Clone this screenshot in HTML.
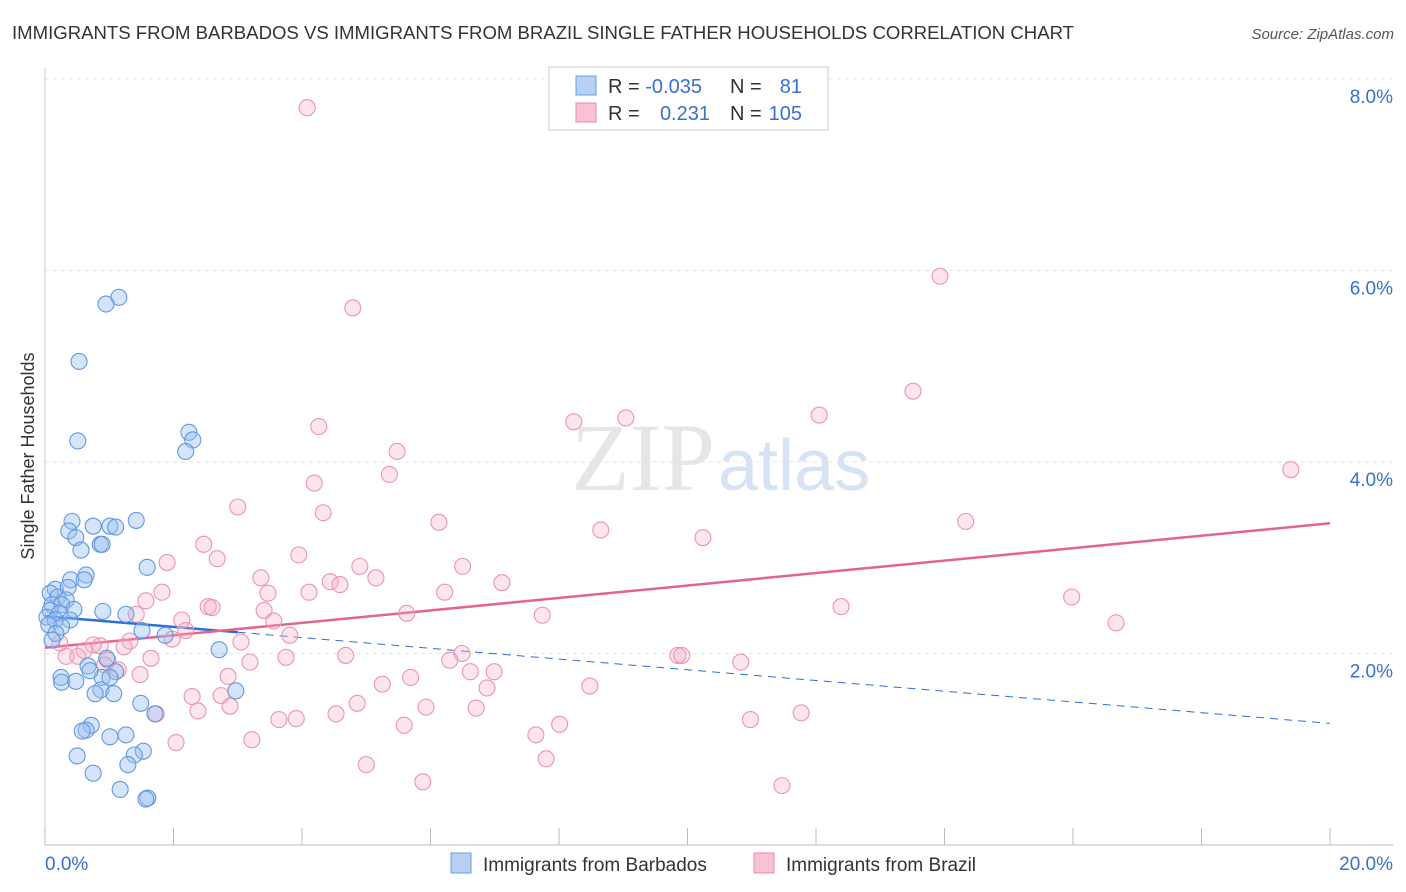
<!DOCTYPE html>
<html><head><meta charset="utf-8"><style>
body{margin:0;background:#fff;font-family:"Liberation Sans",sans-serif;}
#wrap{position:relative;width:1406px;height:892px;overflow:hidden;}
</style></head><body>
<div id="wrap">
<svg id="svg" width="1406" height="892" xmlns="http://www.w3.org/2000/svg">
<text x="12" y="39" font-size="18" fill="#333" textLength="1062" lengthAdjust="spacingAndGlyphs">IMMIGRANTS FROM BARBADOS VS IMMIGRANTS FROM BRAZIL SINGLE FATHER HOUSEHOLDS CORRELATION CHART</text>
<text x="1394" y="39" font-size="15" fill="#555" font-style="italic" text-anchor="end">Source: ZipAtlas.com</text>
<text x="715" y="490" font-size="96" fill="#e6e6e6" text-anchor="end" font-family="Liberation Serif,serif">ZIP</text>
<text x="718" y="490" font-size="72" fill="#d6e3f4">atlas</text>
<text transform="translate(34,456) rotate(-90)" font-size="18" fill="#333" text-anchor="middle">Single Father Households</text>
<g id="grid"></g><g id="trend"></g><g id="pts"></g>
<g>
<rect x="549" y="67" width="279" height="63" fill="#fff" stroke="#ccc"/>
<rect x="576" y="76" width="20" height="19" fill="#b7d0f4" stroke="#6a9be0"/>
<rect x="576" y="103" width="20" height="19" fill="#f8c2d3" stroke="#e889a8"/>
<text x="608" y="93" font-size="20" fill="#333">R = <tspan fill="#3a6fd0">-0.035</tspan></text>
<text x="730" y="93" font-size="20" fill="#333">N = </text><text x="802" y="93" font-size="20" fill="#3a6fd0" text-anchor="end">81</text>
<text x="608" y="120" font-size="20" fill="#333">R = </text><text x="710" y="120" font-size="20" fill="#3a6fd0" text-anchor="end">0.231</text>
<text x="730" y="120" font-size="20" fill="#333">N = </text><text x="802" y="120" font-size="20" fill="#3a6fd0" text-anchor="end">105</text>
</g>
<g>
<rect x="451" y="853" width="20" height="20" fill="#b7d0f4" stroke="#6a9be0"/>
<text x="483" y="871" font-size="19" fill="#333">Immigrants from Barbados</text>
<rect x="754" y="853" width="20" height="20" fill="#f8c2d3" stroke="#e889a8"/>
<text x="786" y="871" font-size="19" fill="#333">Immigrants from Brazil</text>
</g>
</svg>
</div>
<script>
const blueX=[1.15,0.95,0.53,0.51,2.24,2.30,2.19,1.42,0.42,0.75,1.01,1.10,0.37,0.48,0.86,0.89,0.56,1.59,0.64,0.40,0.61,0.16,0.36,0.08,0.2,0.33,0.11,0.26,0.45,0.9,1.26,0.08,0.23,0.03,0.16,0.39,0.06,0.26,1.51,1.87,0.17,0.11,2.71,0.96,0.67,1.1,0.25,0.89,1.01,0.7,0.26,0.48,0.87,1.07,0.78,2.97,1.49,1.71,0.72,0.64,0.58,1.26,1.01,1.53,1.39,0.5,1.29,0.75,1.17,1.6,1.57];
const blueY=[5.72,5.65,5.05,4.22,4.31,4.23,4.11,3.39,3.38,3.33,3.33,3.32,3.28,3.21,3.14,3.14,3.08,2.90,2.82,2.77,2.77,2.67,2.69,2.63,2.59,2.56,2.51,2.51,2.46,2.44,2.41,2.45,2.42,2.38,2.35,2.35,2.30,2.28,2.24,2.19,2.21,2.14,2.04,1.95,1.87,1.81,1.75,1.75,1.75,1.82,1.70,1.71,1.62,1.58,1.58,1.61,1.48,1.37,1.25,1.2,1.19,1.15,1.13,0.98,0.94,0.93,0.84,0.75,0.58,0.49,0.48];
const pinkX=[4.08,13.93,4.79,13.51,4.26,8.23,9.04,12.05,5.48,5.36,19.39,4.19,3.0,4.33,6.13,14.33,8.65,10.24,2.47,3.95,2.68,1.90,4.90,6.5,3.36,5.15,1.82,4.44,4.59,7.11,6.22,3.47,4.11,1.57,2.54,2.6,3.41,5.63,7.74,12.39,15.98,16.67,2.13,1.42,3.56,2.19,3.81,1.98,3.05,0.86,1.32,1.23,0.23,0.75,0.61,0.98,0.51,0.33,1.65,3.19,3.75,4.68,6.49,6.3,9.85,9.91,10.83,6.62,6.99,0.93,1.14,1.48,2.85,5.69,5.25,6.88,8.48,2.29,2.74,2.88,2.38,4.86,5.93,6.71,1.73,4.53,11.77,3.64,3.91,10.98,5.59,8.01,7.64,3.22,2.04,7.8,5.0,5.88,11.47];
const pinkY=[7.70,5.94,5.61,4.74,4.37,4.42,4.46,4.49,4.11,3.87,3.92,3.78,3.53,3.47,3.37,3.38,3.29,3.21,3.14,3.03,2.99,2.95,2.91,2.91,2.79,2.79,2.64,2.75,2.72,2.74,2.64,2.63,2.64,2.55,2.49,2.48,2.45,2.42,2.40,2.49,2.59,2.32,2.35,2.41,2.34,2.24,2.19,2.15,2.12,2.08,2.13,2.07,2.11,2.09,2.03,1.93,1.97,1.97,1.95,1.91,1.96,1.98,2.0,1.93,1.98,1.98,1.91,1.81,1.81,1.88,1.83,1.78,1.76,1.75,1.68,1.64,1.66,1.55,1.56,1.45,1.40,1.48,1.44,1.43,1.37,1.37,1.38,1.31,1.32,1.31,1.25,1.26,1.15,1.10,1.07,0.90,0.84,0.66,0.62];
const yTicks=[2,4,6,8];
const yTickLabels=["2.0%","4.0%","6.0%","8.0%"];
const blueTrend=[2.39,1.27];
const pinkTrend=[2.06,3.36];
const xs=v=>45+v/20*1285, ys=v=>845-v*95.75;
const NS="http://www.w3.org/2000/svg";
function mk(t,a,p){const e=document.createElementNS(NS,t);for(const k in a)e.setAttribute(k,a[k]);p.appendChild(e);return e;}
const grid=document.getElementById('grid');
yTicks.forEach((t,i)=>{
 const l=mk('line',{x1:45,x2:1393,y1:ys(t),y2:ys(t),stroke:'#e3e3e3','stroke-dasharray':'4,4'},grid);
 
 
 const tx=mk('text',{x:1393,y:ys(t)+24,'font-size':19,fill:'#3a6fd0','text-anchor':'end'},grid);
 tx.textContent=yTickLabels[i];
 
 
});
const ax=mk('line',{x1:45,x2:1393,y1:845,y2:845,stroke:'#bbb'},grid);


const ay=mk('line',{x1:45,x2:45,y1:68,y2:845,stroke:'#ccc'},grid);


for(let i=0;i<=10;i++){
 const tk=mk('line',{x1:xs(i*2),x2:xs(i*2),y1:828,y2:845,stroke:'#bbb'},grid);
 
 
}
const x0=mk('text',{x:45,y:870,'font-size':19,fill:'#3a6fd0'},grid);x0.textContent='0.0%';


const x1=mk('text',{x:1393,y:870,'font-size':19,fill:'#3a6fd0','text-anchor':'end'},grid);x1.textContent='20.0%';


const tr=document.getElementById('trend');
const bAt=v=>blueTrend[0]+(blueTrend[1]-blueTrend[0])*v/20;
let l1=mk('line',{x1:xs(0),y1:ys(bAt(0)),x2:xs(3),y2:ys(bAt(3)),stroke:'#2e6fd6','stroke-width':2.5},tr);


let l2=mk('line',{x1:xs(3),y1:ys(bAt(3)),x2:xs(20),y2:ys(bAt(20)),stroke:'#2e6fd6','stroke-width':1,'stroke-dasharray':'8,6'},tr);


let l3=mk('line',{x1:xs(0),y1:ys(pinkTrend[0]),x2:xs(20),y2:ys(pinkTrend[1]),stroke:'#e4648f','stroke-width':2.5},tr);


const pts=document.getElementById('pts');
pinkX.forEach((x,i)=>{
 const c=mk('circle',{cx:xs(x),cy:ys(pinkY[i]),r:8,fill:'rgba(245,170,195,0.3)',stroke:'#ea94b2','stroke-width':1.1},pts);
 
 
});
blueX.forEach((x,i)=>{
 const c=mk('circle',{cx:xs(x),cy:ys(blueY[i]),r:8,fill:'rgba(150,190,240,0.4)',stroke:'#6398e0','stroke-width':1.1},pts);
 
 
});
</script>
</body></html>
